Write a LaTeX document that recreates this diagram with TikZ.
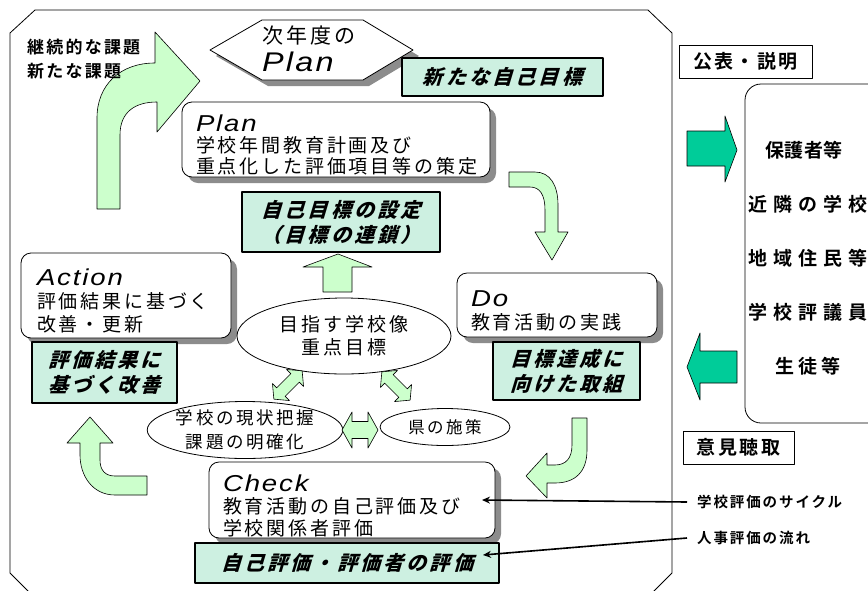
\documentclass[tikz,border=0pt]{standalone}
\usepackage{fontspec}
\usepackage{tikz}
\usetikzlibrary{positioning,shapes,shadows,arrows.meta,calc}
\setmainfont{Liberation Sans}
\newfontfamily\jp{Noto Sans CJK JP}[LetterSpace=15]
\newfontfamily\jpb{Noto Sans CJK JP Bold}[LetterSpace=13]
\newfontfamily\jpgoal{Noto Sans CJK JP Black}[FakeSlant=0.3,LetterSpace=16]
\newfontfamily\phasefont{Liberation Sans Italic}[FakeStretch=1.2,LetterSpace=8]
\newcommand\phasehead[1]{{\phasefont\fontsize{23}{23}\selectfont\rule{0pt}{28pt}#1}}
\definecolor{flowgreen}{RGB}{204,255,204}
\definecolor{voicegreen}{RGB}{0,204,153}
\definecolor{dotgreen}{RGB}{205,240,225}

\begin{document}
\begin{tikzpicture}[x=1pt,y=-1pt,line join=round,
            phase/.style={draw, rounded corners=10pt, fill=white, line width=0.8pt,
            drop shadow={shadow xshift=6pt, shadow yshift=-6pt, fill=black!45, opacity=1},
            align=left, inner ysep=0pt},
            goal/.style={draw, line width=2.2pt, fill=dotgreen, align=center, inner sep=0pt,
            font=\jpgoal\fontsize{20}{25}\selectfont},
            aim/.style={draw, ellipse, fill=white, line width=0.8pt, inner sep=0pt, align=center},
            flow/.style={draw, fill=flowgreen, line width=0.6pt},
            voice/.style={draw, fill=voicegreen, line width=0.6pt},
            tag/.style={draw, line width=0.8pt, inner sep=0pt, font=\jpb\fontsize{19}{19}\selectfont},
            note/.style={anchor=west, inner xsep=10pt, inner ysep=0pt, font=\jpb\fontsize{14.5}{14.5}\selectfont},
            pointer/.style={-{Stealth[length=8pt,width=7pt]}, line width=1.6pt}]

  \useasboundingbox (0,0) rectangle (868,590);
  \fill[white] (0,0) rectangle (868,590);
  \clip (0,0) rectangle (868,590);

  % outer frame
  \draw[line width=0.8pt] (10,33) -- (35,10) -- (648,10) -- (672,33) -- (672,573)
    -- (650,595) -- (32,595) -- (10,573) -- cycle;

  % next year's plan
  \path[draw, fill=white, line width=0.8pt,
    drop shadow={shadow xshift=6pt, shadow yshift=-6pt, fill=black!45, opacity=1}]
    (210,50) -- (262,20) -- (363,20) -- (413,50) -- (363,80) -- (262,80) -- cycle;
  \node[anchor=west, align=left, inner sep=0pt, font=\jp\fontsize{21}{28}\selectfont] (nextplan) at (262,49)
    {次年度の\\{\phasefont\fontsize{27}{28}\selectfont Plan}};
  \node[goal, minimum width=201pt, minimum height=38pt] (newgoal) at (502.5,77) {新たな自己目標};

  % PDCA boxes
  \node[phase, minimum height=75pt, text width=280pt, inner xsep=14pt,
    font=\jp\fontsize{19}{21}\selectfont] (plan) at (336,139.5)
    {\phasehead{Plan}\\学校年間教育計画及び\\重点化した評価項目等の策定};
  \node[phase, minimum height=85pt, text width=178pt, inner xsep=16pt,
    font=\jp\fontsize{19}{23}\selectfont] (action) at (126,295.5)
    {\phasehead{Action}\\評価結果に基づく\\改善・更新};
  \node[phase, minimum height=64pt, text width=172pt, inner xsep=14pt,
    font=\jp\fontsize{19}{23}\selectfont] (do) at (557,305)
    {\phasehead{Do}\\教育活動の実践};
  \node[phase, minimum height=76pt, text width=258pt, inner xsep=14pt,
    font=\jp\fontsize{19}{22}\selectfont] (check) at (352,500)
    {\phasehead{Check}\\教育活動の自己評価及び\\学校関係者評価};

  % goals
  \node[goal, minimum width=198pt, minimum height=60pt] (setgoal) at (341,222) {自己目標の設定\\（目標の連鎖）};
  \node[goal, minimum width=145pt, minimum height=61pt] (actgoal) at (104.5,372.5) {評価結果に\\基づく改善};
  \node[goal, minimum width=147pt, minimum height=58pt] (dogoal) at (566.5,371) {目標達成に\\向けた取組};
  \node[goal, minimum width=304pt, minimum height=40pt] (checkgoal) at (347,563) {自己評価・評価者の評価};

  % ellipses
  \node[aim, minimum width=214pt, minimum height=76pt, font=\jp\fontsize{19}{23}\selectfont] (vision)
    at (344,336) {目指す学校像\\重点目標};
  \node[aim, minimum width=184pt, minimum height=50pt, font=\jp\fontsize{17.5}{24}\selectfont] (state)
    at (245,430) {学校の現状把握\\課題の明確化};
  \node[aim, minimum width=130pt, minimum height=37pt, font=\jp\fontsize{16.5}{20}\selectfont] (pref)
    at (445,427) {県の施策};

  % cycle arrows
  \draw[flow] (97,209) -- (97,118) .. controls (97,85) and (120,63) .. (155,63) -- (155,32)
    -- (200,81) -- (157,132) -- (157,102) .. controls (135,102) and (120,112) .. (120,135)
    -- (120,209) -- cycle;
  \draw[flow] (509,172) -- (535,172) .. controls (550,172) and (558,185) .. (558,205)
    -- (558,232) -- (568,232) -- (552,260) -- (535,232) -- (545,232) -- (545,210)
    .. controls (545,195) and (540,187) .. (530,187) -- (509,187) -- cycle;
  \draw[flow] (587,418) -- (587,450) .. controls (587,472) and (575,483) .. (555,483)
    -- (547,483) -- (547,498) -- (526,476) -- (547,453) -- (547,465) -- (555,465)
    .. controls (566,465) and (572,458) .. (572,445) -- (572,418) -- cycle;
  \draw[flow] (147,495) -- (115,495) .. controls (92,495) and (80,475) .. (80,455)
    -- (80,443) -- (67,443) -- (90,417) -- (113,443) -- (100,443) -- (100,460)
    .. controls (100,470) and (105,476) .. (115,476) -- (147,476) -- cycle;
  \draw[flow] (323,292) -- (323,267) -- (303,267) -- (338,254) -- (372,267) -- (352,267)
    -- (352,292) -- cycle;

  \node[anchor=north west, align=left, inner sep=0pt, font=\jpb\fontsize{17}{24}\selectfont] (issues)
    at (27,39) {継続的な課題\\新たな課題};

  % double arrows
  \foreach \cx/\cy/\ang/\len/\wid/\sh in {288/385/45/20/12/6, 396/386/-45/20/12/6, 360/430/0/18/18/8.5}
    \draw[flow, shift={(\cx,\cy)}, rotate=\ang]
      (-\len,0) -- (-\len+10,-\wid) -- (-\len+10,-\sh) -- (\len-10,-\sh) -- (\len-10,-\wid)
      -- (\len,0) -- (\len-10,\wid) -- (\len-10,\sh) -- (-\len+10,\sh) -- (-\len+10,\wid) -- cycle;

  % right side
  \node[tag, minimum width=133pt, minimum height=33pt] (publish) at (745.5,61.5) {公表・説明};
  \node[tag, minimum width=111pt, minimum height=33pt] (opinion) at (738.5,447.5) {意見聴取};
  \draw[line width=0.8pt, rounded corners=16pt] (745,84) rectangle (1000,423);
  \foreach \who/\gap/\left [count=\i] in {保護者等/3/765,近隣の学校/32/748,地域住民等/32/748,学校評議員/32/748,生徒等/22/775}
    \node[anchor=west, inner sep=0pt, font=\jpb\fontsize{19}{19}\selectfont\addfontfeature{LetterSpace=\gap}] (stake\i)
      at (\left,96+54*\i) {\who};
  \draw[voice] (687,131) -- (725,131) -- (725,116) -- (737,150) -- (725,182) -- (725,166)
    -- (687,166) -- cycle;
  \draw[voice] (737,351) -- (700,351) -- (700,333) -- (687,367) -- (700,400) -- (700,383)
    -- (737,383) -- cycle;

  % legend
  \node[note] (cycle) at (687,502) {学校評価のサイクル};
  \node[note] (hr) at (687,538) {人事評価の流れ};
  \coordinate (cycletip) at (482,500);
  \coordinate (hrtip) at (483,555);
  \draw[pointer] (cycle.west) -- (cycletip);
  \draw[pointer] (hr.west) -- (hrtip);
\end{tikzpicture}
\end{document}
